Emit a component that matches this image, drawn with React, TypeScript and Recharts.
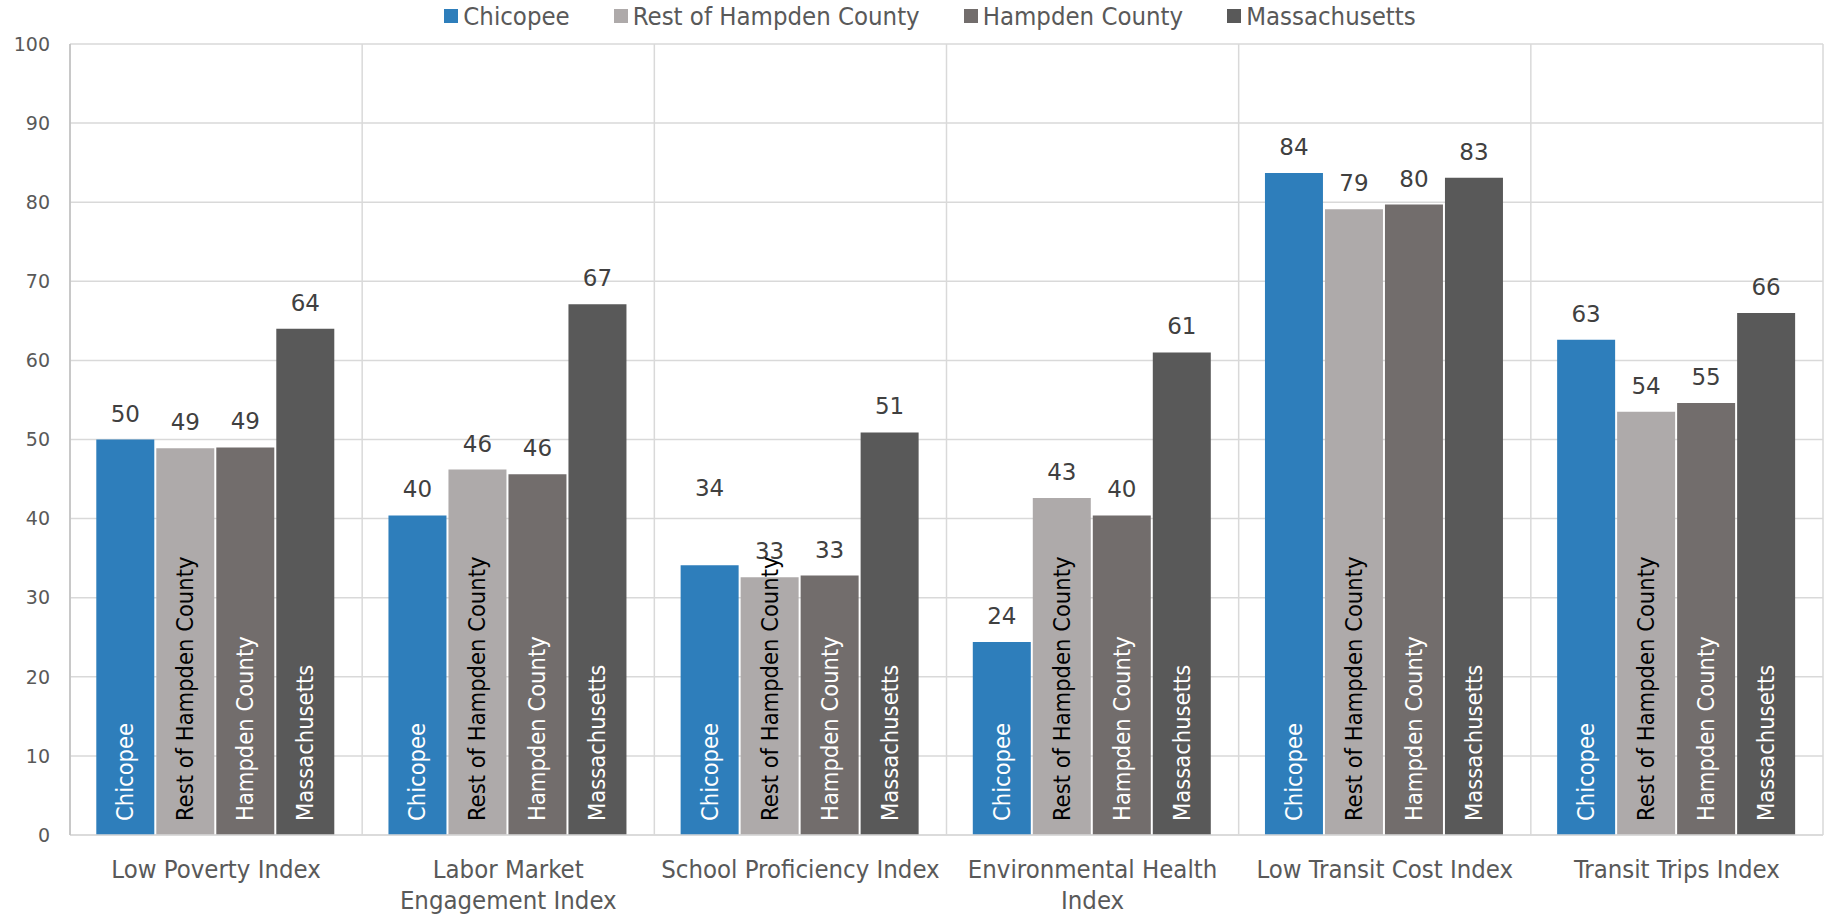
import React from 'react';
import { BarChart, Bar, XAxis, YAxis, CartesianGrid, Legend, LabelList } from 'recharts';

const categories = [
  'Low Poverty Index',
  'Labor Market\nEngagement Index',
  'School Proficiency Index',
  'Environmental Health\nIndex',
  'Low Transit Cost Index',
  'Transit Trips Index',
];
const seriesNames = ['Chicopee', 'Rest of Hampden County', 'Hampden County', 'Massachusetts'];
const chicopee = [50.0, 40.4, 34.1, 24.4, 83.7, 62.6];
const restOfHampden = [48.9, 46.2, 32.6, 42.6, 79.1, 53.5];
const hampden = [49.0, 45.6, 32.8, 40.4, 79.7, 54.6];
const massachusetts = [64.0, 67.1, 50.9, 61.0, 83.1, 66.0];
const yTicks = [0, 10, 20, 30, 40, 50, 60, 70, 80, 90, 100];

const seriesValues = [chicopee, restOfHampden, hampden, massachusetts];
const colors = ['#2e7ebb', '#aeaaaa', '#726d6c', '#595959'];
const insideText = ['#ffffff', '#000000', '#ffffff', '#ffffff'];

const data = categories.map((name, i) => {
  const row: Record<string, string | number> = { name };
  seriesNames.forEach((s, j) => {
    row[s] = seriesValues[j][i];
  });
  return row;
});

const condensed = '"DejaVu Sans Condensed", "DejaVu Sans", sans-serif';
const wide = '"DejaVu Sans", sans-serif';

const CategoryTick = (props: any) => {
  const { x, y, payload } = props;
  const lines = String(payload.value).split('\n');
  return (
    <text
      x={x}
      y={y + 43}
      textAnchor="middle"
      fill="#595959"
      fontSize={25.5}
      fontFamily={condensed}
      style={{ fontStretch: 'condensed' }}
    >
      {lines.map((l, i) => (
        <tspan key={i} x={x} dy={i === 0 ? 0 : 31}>
          {l}
        </tspan>
      ))}
    </text>
  );
};

const makeValueLabel = (series: string) => (props: any) => {
  const { x, y, width, value, index } = props;
  // the Chicopee label in School Proficiency sits higher to clear its neighbours
  const lift = series === 'Chicopee' && index === 2 ? 51 : 0;
  return (
    <text
      x={Number(x) + Number(width) / 2}
      y={Number(y) - 18 - lift}
      textAnchor="middle"
      fill="#404040"
      fontSize={23}
      fontFamily={wide}
    >
      {Math.round(Number(value))}
    </text>
  );
};

const makeNameLabel = (series: string, color: string) => (props: any) => {
  const { x, y, width, height } = props;
  const cx = Number(x) + Number(width) / 2;
  const by = Number(y) + Number(height) - 14;
  return (
    <text
      x={cx}
      y={by}
      transform={`rotate(-90 ${cx} ${by})`}
      textAnchor="start"
      dominantBaseline="central"
      fill={color}
      fontSize={23.5}
      fontFamily={condensed}
      style={{ fontStretch: 'condensed' }}
    >
      {series}
    </text>
  );
};

const LegendContent = () => (
  <div
    style={{
      display: 'flex',
      justifyContent: 'center',
      alignItems: 'center',
      paddingLeft: 36,
      fontFamily: condensed,
      fontStretch: 'condensed',
      fontSize: 25.5,
      color: '#595959',
    }}
  >
    {seriesNames.map((s, i) => (
      <div key={s} style={{ display: 'flex', alignItems: 'center', marginRight: i < 3 ? 44 : 0 }}>
        <span style={{ width: 14, height: 14, background: colors[i], marginRight: 5, display: 'inline-block' }} />
        <span>{s}</span>
      </div>
    ))}
  </div>
);

// grid lines at the category boundaries rather than the category centres
const verticalLines = ({ offset }: any) => {
  const w = offset.width / categories.length;
  return [...categories.map((_, i) => offset.left + i * w), offset.left + offset.width];
};

export default function App() {
  return (
    <div style={{ position: 'absolute', left: 0, top: 0, background: '#fff' }}>
      <BarChart
        width={1824}
        height={916}
        data={data}
        margin={{ top: 44, right: 1, bottom: 0, left: 0 }}
        barCategoryGap="9%"
        barGap={2}
      >
        <CartesianGrid stroke="#d9d9d9" strokeWidth={1.5} verticalCoordinatesGenerator={verticalLines} />
        <XAxis
          dataKey="name"
          height={81}
          tickLine={false}
          tickSize={0}
          tickMargin={0}
          axisLine={{ stroke: '#d9d9d9', strokeWidth: 1.5 }}
          tick={<CategoryTick />}
          interval={0}
        />
        <YAxis
          width={70}
          domain={[0, 100]}
          ticks={yTicks}
          tickLine={false}
          tickSize={0}
          tickMargin={20}
          axisLine={{ stroke: '#bfbfbf', strokeWidth: 1.5 }}
          tick={{ fill: '#595959', fontSize: 19, fontFamily: wide }}
        />
        <Legend
          layout="horizontal"
          verticalAlign="middle"
          content={<LegendContent />}
          wrapperStyle={{ top: 1, left: 0, width: 1824, height: 32 }}
        />
        {seriesNames.map((s, i) => (
          <Bar key={s} dataKey={s} fill={colors[i]} isAnimationActive={false}>
            <LabelList dataKey={s} content={makeValueLabel(s)} />
            <LabelList dataKey={s} content={makeNameLabel(s, insideText[i])} />
          </Bar>
        ))}
      </BarChart>
    </div>
  );
}
